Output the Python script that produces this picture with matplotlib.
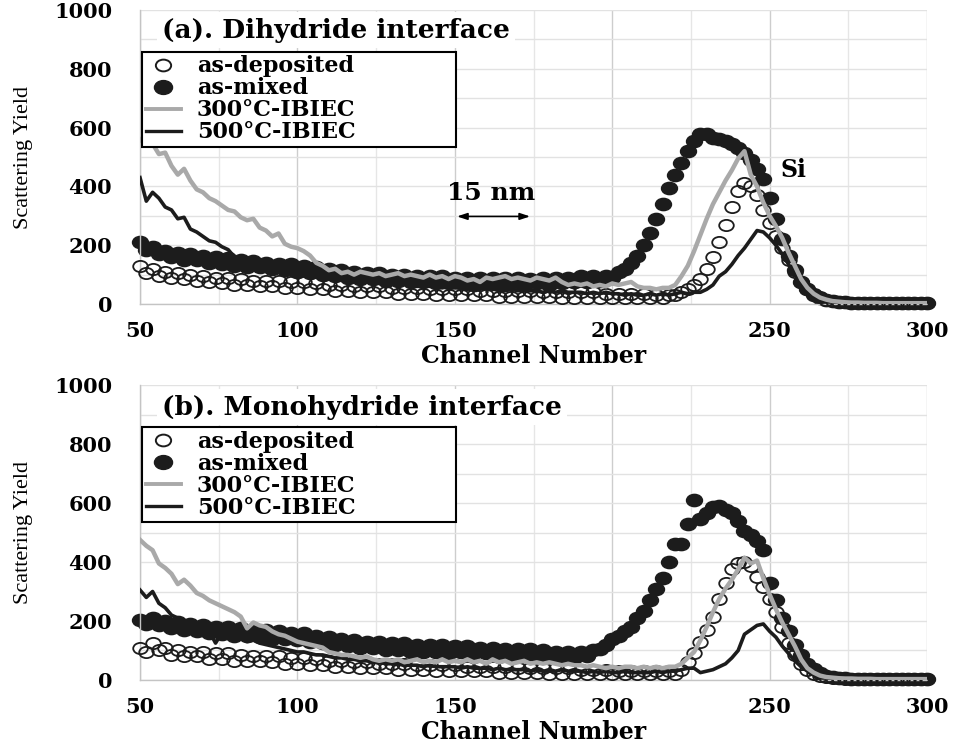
import matplotlib
matplotlib.use("Agg")
import matplotlib.pyplot as plt
from matplotlib.lines import Line2D
from matplotlib.path import Path
from matplotlib.transforms import Affine2D
from matplotlib.ticker import MultipleLocator

# ---------------- data ----------------
channels = list(range(50, 301, 2))  # channel numbers, step 2

a_deposited = [
    130, 105, 120, 95, 110, 90, 105, 85, 100, 80,
    95, 75, 90, 70, 90, 65, 85, 65, 80, 60,
    80, 60, 80, 55, 75, 55, 75, 50, 70, 50,
    65, 45, 65, 45, 60, 40, 60, 40, 60, 40,
    55, 35, 55, 35, 55, 35, 50, 30, 50, 30,
    50, 30, 50, 30, 45, 30, 45, 25, 45, 25,
    45, 25, 45, 25, 40, 25, 40, 20, 40, 20,
    40, 20, 40, 20, 35, 20, 35, 20, 35, 20,
    35, 20, 30, 20, 30, 30, 40, 50, 65, 85,
    120, 160, 210, 270, 330, 385, 410, 400, 370, 320,
    275, 230, 190, 150, 110, 75, 50, 35, 25, 15,
    10, 8, 6, 5, 5, 4, 4, 4, 3, 3,
    3, 3, 3, 3, 3, 3]

a_mixed = [
    210, 185, 195, 170, 180, 160, 175, 150, 170, 150,
    165, 140, 160, 135, 155, 130, 150, 125, 145, 125,
    140, 120, 135, 115, 135, 110, 130, 105, 125, 100,
    120, 95, 115, 90, 110, 85, 105, 85, 105, 80,
    100, 80, 100, 75, 95, 75, 95, 70, 95, 70,
    90, 70, 90, 65, 90, 70, 90, 65, 90, 70,
    90, 65, 85, 70, 90, 65, 90, 70, 90, 75,
    95, 75, 95, 80, 95, 90, 110, 120, 140, 165,
    200, 240, 290, 340, 395, 440, 480, 520, 555, 580,
    578, 565, 560, 555, 545, 530, 515, 490, 460, 425,
    360, 290, 220, 165, 115, 75, 50, 32, 22, 15,
    10, 8, 6, 5, 5, 5, 4, 4, 4, 3,
    3, 3, 3, 3, 3, 3]

a_300 = [
    560, 540, 545, 510, 515, 470, 440, 460, 420, 390,
    380, 360, 350, 335, 320, 315, 295, 285, 290, 260,
    250, 230, 240, 205, 195, 190, 180, 165, 140, 130,
    115, 120, 105, 110, 100, 110, 105, 100, 105, 95,
    100, 105, 95, 100, 95, 90, 100, 90, 95, 85,
    95, 90, 80, 85, 75, 90, 85, 90, 95, 85,
    90, 85, 80, 90, 85, 80, 90, 75, 65, 70,
    65, 70, 60, 65, 60, 70, 65, 70, 75, 60,
    55, 55, 50, 55, 55, 65, 95, 130, 180, 235,
    290, 340, 380, 420, 455, 495, 520, 440, 400, 345,
    300, 265, 225, 175, 130, 85, 55, 35, 22, 15,
    10, 8, 6, 5, 5, 4, 4, 4, 3, 3,
    3, 3, 3, 3, 3, 3]

a_500 = [
    430, 350, 380, 360, 330, 320, 290, 295, 255, 245,
    230, 215, 210, 195, 185, 160, 150, 145, 140, 135,
    130, 125, 120, 115, 115, 110, 105, 100, 100, 95,
    90, 90, 85, 80, 85, 80, 75, 75, 70, 75,
    70, 65, 70, 65, 60, 65, 60, 60, 55, 60,
    55, 55, 50, 55, 50, 55, 50, 50, 45, 50,
    45, 50, 45, 45, 40, 45, 40, 45, 40, 40,
    40, 35, 40, 35, 40, 35, 35, 30, 35, 30,
    30, 35, 30, 35, 30, 35, 40, 35, 40, 40,
    50, 65, 95, 110, 135, 165, 190, 220, 250, 245,
    225, 200, 170, 135, 100, 70, 45, 30, 20, 12,
    8, 6, 5, 4, 4, 4, 3, 3, 3, 3,
    3, 3, 3, 3, 3, 3]

b_deposited = [
    110, 95, 125, 100, 110, 85, 100, 80, 95, 80,
    95, 70, 90, 70, 90, 65, 85, 65, 80, 65,
    80, 60, 80, 55, 75, 55, 75, 50, 70, 50,
    65, 45, 65, 45, 60, 40, 60, 40, 55, 40,
    55, 35, 55, 35, 50, 35, 50, 30, 50, 30,
    50, 30, 45, 30, 45, 30, 45, 25, 45, 25,
    40, 25, 40, 25, 40, 20, 40, 20, 40, 20,
    35, 20, 35, 20, 35, 20, 30, 20, 30, 20,
    30, 20, 30, 20, 30, 20, 35, 60, 90, 130,
    170, 215, 275, 330, 375, 395, 400, 385, 350, 315,
    275, 230, 180, 125, 85, 55, 35, 22, 15, 10,
    8, 6, 5, 5, 4, 4, 4, 3, 3, 3,
    3, 3, 3, 3, 3, 3]

b_mixed = [
    205, 190, 210, 185, 200, 175, 195, 170, 190, 165,
    185, 160, 180, 155, 180, 150, 175, 150, 170, 145,
    170, 140, 165, 140, 160, 135, 160, 130, 150, 125,
    145, 120, 140, 115, 135, 110, 130, 110, 130, 100,
    125, 100, 125, 95, 120, 95, 120, 95, 120, 90,
    115, 95, 115, 90, 110, 90, 110, 85, 105, 85,
    105, 80, 105, 80, 100, 75, 95, 75, 95, 75,
    95, 80, 100, 105, 120, 140, 150, 165, 180, 210,
    235, 270, 310, 345, 400, 460, 460, 530, 610, 545,
    565, 585, 590, 575, 565, 540, 505, 490, 470, 440,
    330, 270, 210, 165, 120, 85, 55, 38, 25, 15,
    10, 8, 6, 5, 5, 5, 4, 4, 4, 3,
    3, 3, 3, 3, 3, 3]

b_300 = [
    475, 455, 440, 395, 380, 360, 325, 340, 320, 295,
    285, 270, 260, 250, 240, 230, 215, 175, 195, 185,
    180, 165, 155, 150, 140, 130, 125, 120, 115, 110,
    95, 90, 85, 85, 80, 75, 80, 70, 65, 70,
    65, 70, 60, 65, 70, 60, 65, 60, 70, 60,
    65, 60, 70, 60, 65, 55, 70, 60, 65, 55,
    60, 65, 55, 60, 55, 60, 55, 50, 55, 50,
    50, 45, 50, 45, 40, 45, 40, 45, 45, 40,
    45, 40, 45, 40, 45, 45, 55, 75, 95, 135,
    180, 230, 275, 310, 340, 375, 415, 395, 405, 345,
    290, 240, 195, 155, 115, 70, 40, 25, 15, 10,
    8, 6, 5, 5, 4, 4, 4, 3, 3, 3,
    3, 3, 3, 3, 3, 3]

b_500 = [
    305, 280, 300, 260, 245, 220, 210, 200, 190, 180,
    175, 165, 125, 160, 150, 145, 140, 130, 135, 125,
    120, 115, 110, 105, 100, 95, 95, 90, 85, 85,
    80, 75, 75, 70, 70, 65, 65, 60, 60, 55,
    55, 55, 50, 50, 50, 45, 50, 45, 45, 45,
    45, 40, 45, 40, 40, 40, 35, 40, 35, 35,
    35, 35, 30, 35, 30, 30, 30, 35, 30, 30,
    30, 25, 30, 25, 30, 25, 25, 30, 25, 25,
    25, 25, 30, 25, 30, 30, 35, 40, 40, 25,
    30, 35, 45, 55, 75, 100, 155, 170, 185, 190,
    165, 145, 115, 90, 65, 45, 30, 20, 12, 8,
    6, 5, 4, 4, 4, 3, 3, 3, 3, 3,
    3, 3, 3, 3, 3, 3]

panel_titles = ["(a). Dihydride interface", "(b). Monohydride interface"]
legend_labels = ["as-deposited", "as-mixed", "300°C-IBIEC", "500°C-IBIEC"]
x_ticks = [50, 100, 150, 200, 250, 300]
y_ticks = [0, 200, 400, 600, 800, 1000]

# ---------------- styling ----------------
BOLD = dict(family="DejaVu Serif", weight="bold")
GRAY = "#a9a9a9"
DARK = "#1c1c1c"
# slightly wide ellipse marker (the reference is horizontally stretched)
ELLIPSE = Path.unit_circle().transformed(Affine2D().scale(1.3, 1.0))

fig = plt.figure(figsize=(9.57, 7.43), dpi=100)
ax_a = fig.add_axes([0.1463, 0.5908, 0.8224, 0.3957])
ax_b = fig.add_axes([0.1463, 0.0848, 0.8224, 0.3970])

panels = [
    (ax_a, a_deposited, a_mixed, a_300, a_500, panel_titles[0], 0.932),
    (ax_b, b_deposited, b_mixed, b_300, b_500, panel_titles[1], 0.925),
]

for ax, dep, mix, l300, l500, title, ty in panels:
    ax.plot(channels, mix, linestyle="none", marker=ELLIPSE, markersize=11.5,
            markerfacecolor=DARK, markeredgecolor=DARK, clip_on=False, zorder=2)
    ax.plot(channels, dep, linestyle="none", marker=ELLIPSE, markersize=10.5,
            markerfacecolor="none", markeredgecolor=DARK, markeredgewidth=1.3,
            clip_on=False, zorder=3)
    ax.plot(channels, l500, color=DARK, linewidth=2.6, zorder=4)
    ax.plot(channels, l300, color=GRAY, linewidth=3.2, zorder=5)

    ax.set_xlim(50, 300)
    ax.set_ylim(0, 1000)
    ax.set_xticks(x_ticks)
    ax.set_yticks(y_ticks)
    ax.xaxis.set_minor_locator(MultipleLocator(25))
    ax.yaxis.set_minor_locator(MultipleLocator(100))
    ax.grid(which="major", axis="x", color="#cdcdcd", linewidth=1.0)
    ax.grid(which="minor", axis="x", color="#e6e6e6", linewidth=1.0)
    ax.grid(which="both", axis="y", color="#e2e2e2", linewidth=1.0)
    ax.set_axisbelow(True)
    for s in ["top", "right"]:
        ax.spines[s].set_visible(False)
    for s in ["left", "bottom"]:
        ax.spines[s].set_color("#c4c4c4")
        ax.spines[s].set_linewidth(1.0)
    ax.tick_params(which="both", length=0)
    ax.tick_params(axis="y", pad=20)
    ax.tick_params(axis="x", pad=12)
    for lab in ax.get_xticklabels() + ax.get_yticklabels():
        lab.set_fontfamily("DejaVu Serif")
        lab.set_fontweight("bold")
        lab.set_fontsize(15)

    ax.set_xlabel("Channel Number", fontsize=17, **BOLD)
    ax.xaxis.set_label_coords(0.5, -0.135)
    ax.xaxis.label.set_verticalalignment("top")
    ax.set_ylabel("Scattering Yield", fontsize=16, family="Liberation Serif")
    ax.yaxis.set_label_coords(-0.136, 0.5)

    ax.text(0.028, ty, title, transform=ax.transAxes, fontsize=19,
            ha="left", va="center", zorder=6,
            bbox=dict(facecolor="white", edgecolor="none", pad=4), **BOLD)

    handles = [
        Line2D([], [], linestyle="none", marker=ELLIPSE, markersize=11,
               markerfacecolor="white", markeredgecolor=DARK, markeredgewidth=1.4),
        Line2D([], [], linestyle="none", marker=ELLIPSE, markersize=13,
               markerfacecolor=DARK, markeredgecolor=DARK),
        Line2D([], [], color=GRAY, linewidth=2.8),
        Line2D([], [], color=DARK, linewidth=2.4),
    ]
    leg = ax.legend(handles, legend_labels, loc="upper left",
                    bbox_to_anchor=(0.003, 0.544, 0.398, 0.313), mode="expand",
                    borderaxespad=0, borderpad=0.15, labelspacing=0.0,
                    handlelength=1.6, handletextpad=0.7, fancybox=False,
                    framealpha=1, edgecolor="black",
                    prop=dict(family="DejaVu Serif", weight="bold", size=16))
    leg.get_frame().set_linewidth(1.5)
    leg.set_zorder(7)

# annotations in panel (a)
ax_a.annotate("", xy=(150.7, 298), xytext=(173.9, 298),
              arrowprops=dict(arrowstyle="<|-|>,head_length=0.6,head_width=0.2",
                              color="black", linewidth=1.2, shrinkA=0, shrinkB=0))
ax_a.text(161.5, 378, "15 nm", fontsize=18, ha="center", va="center", **BOLD)
ax_a.text(257.5, 456, "Si", fontsize=17, ha="center", va="center", **BOLD)

fig.savefig("out.png", dpi=100)
